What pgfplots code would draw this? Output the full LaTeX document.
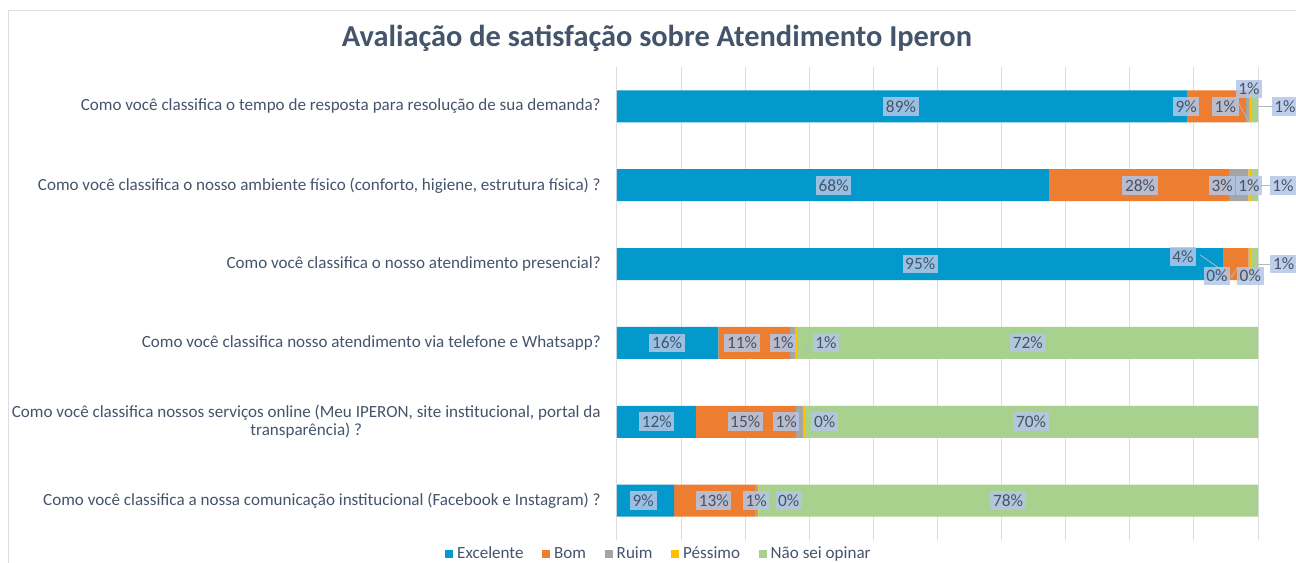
\documentclass[border=0pt]{standalone}
\usepackage{fontspec}
\setmainfont{Carlito}
\usepackage{pgfplots}
\pgfplotsset{compat=1.18}
\usepackage{pgfplotstable}
\definecolor{cExc}{HTML}{0399CC}
\definecolor{cBom}{HTML}{ED7D31}
\definecolor{cRuim}{HTML}{A5A5A5}
\definecolor{cPess}{HTML}{FFC000}
\definecolor{cNao}{HTML}{A9D18E}
\definecolor{txt}{HTML}{44546A}
\definecolor{gridc}{HTML}{DCDCE2}
\definecolor{lblbg}{HTML}{B4C7E7}

\pgfplotstableread{
y exc bom ruim pess nao
1 88.9 9.2 0.5 0.5 0.9
2 67.5 28.0 3.0 0.6 0.9
3 94.5 4.0 0.1 0.3 1.1
4 15.8 11.2 0.8 0.3 71.9
5 12.3 15.6 1.1 0.3 70.7
6 8.9 12.6 0.5 0.1 77.9
}\datatable

\pgfplotstableread{
x y lab
44.3 1 89
88.8 1 9
94.9 1 1
98.6 0.78 1
104.2 1 1
33.8 2 68
81.6 2 28
94.4 2 3
98.6 2 1
103.9 2 1
47.3 3 95
88.3 2.90 4
93.6 3.15 0
98.8 3.15 0
104.0 3 1
7.8 4 16
19.5 4 11
25.9 4 1
32.6 4 1
64.1 4 72
6.2 5 12
20.0 5 15
26.4 5 1
32.4 5 0
64.6 5 70
4.1 6 9
15.1 6 13
21.7 6 1
26.8 6 0
61.0 6 78
}\labeltable

\begin{document}
\begin{tikzpicture}
\path[use as bounding box] (0pt,0pt) rectangle (972pt,422.25pt);
\draw[gridc, line width=0.75pt] (6pt,0pt) -- (6pt,414pt) -- (972pt,414pt);
\node[font=\fontsize{22.8}{27}\selectfont\bfseries, text=txt] at (492.75pt,393.75pt) {Avaliação de satisfação sobre Atendimento Iperon};

\begin{axis}[
  at={(462.75pt,17.25pt)}, anchor=south west,
  scale only axis, width=480.75pt, height=354.75pt,
  xbar stacked, bar width=24pt,
  xmin=0, xmax=100, ymin=0.5, ymax=6.5, y dir=reverse,
  xtick={0,10,...,100}, xticklabels={},
  xmajorgrids, major grid style={gridc, line width=0.75pt},
  axis line style={draw=none},
  major tick length=0pt,
  ytick={1,...,6},
  yticklabels={
    {Como você classifica o tempo de resposta para resolução de sua demanda?},
    {Como você classifica o nosso ambiente físico (conforto, higiene, estrutura física) ?},
    {Como você classifica o nosso atendimento presencial?},
    {Como você classifica nosso atendimento via telefone e Whatsapp?},
    {Como você classifica nossos serviços online (Meu IPERON, site institucional, portal da\\transparência) ?},
    {Como você classifica a nossa comunicação institucional (Facebook e Instagram) ?}},
  yticklabel style={font=\fontsize{12.8}{14}\selectfont, text=txt, align=center, anchor=east, inner sep=0pt, xshift=-12pt},
  legend columns=5,
  legend style={at={(0.067,-0.03)}, anchor=center, draw=none, fill=none,
    font=\fontsize{12.8}{14}\selectfont, text=txt,
    nodes={text height=1.6ex, text depth=0.3ex, inner xsep=3pt},
    /tikz/every even column/.append style={column sep=11pt}},
  legend image code/.code={\fill[#1] (0pt,-3pt) rectangle (6pt,3pt);},
  clip=false,
]
\addplot[fill=cExc, draw=none] table[x=exc, y=y] {\datatable};
\addlegendentry{Excelente}
\addplot[fill=cBom, draw=none] table[x=bom, y=y] {\datatable};
\addlegendentry{Bom}
\addplot[fill=cRuim, draw=none] table[x=ruim, y=y] {\datatable};
\addlegendentry{Ruim}
\addplot[fill=cPess, draw=none] table[x=pess, y=y] {\datatable};
\addlegendentry{Péssimo}
\addplot[fill=cNao, draw=none] table[x=nao, y=y] {\datatable};
\addlegendentry{Não sei opinar}
\end{axis}

\begin{axis}[
  at={(462.75pt,17.25pt)}, anchor=south west,
  scale only axis, width=480.75pt, height=354.75pt,
  xmin=0, xmax=100, ymin=0.5, ymax=6.5, y dir=reverse,
  hide axis, clip=false,
]
% leader lines
\addplot[cRuim!80, line width=0.6pt] coordinates {(100,1) (102.6,1)};
\addplot[cRuim!80, line width=0.6pt] coordinates {(96.7,0.92) (98.6,1.2)};
\addplot[cRuim!80, line width=0.6pt] coordinates {(100,2) (102.2,2)};
\addplot[cRuim!80, line width=0.6pt] coordinates {(91.0,2.885) (95.9,3.164) (96.7,3.05)};
\addplot[cRuim!80, line width=0.6pt] coordinates {(100,3) (101.9,3)};
\addplot[cRuim!80, line width=0.6pt] coordinates {(29.2,4.16) (30.1,4.0)};
\addplot[cRuim!80, line width=0.6pt] coordinates {(29.3,5) (30.4,5)};
% data labels
\addplot[draw=none, mark=none,
  nodes near coords={\pgfplotspointmeta\%},
  point meta=explicit symbolic,
  every node near coord/.style={anchor=center, font=\fontsize{13}{14}\selectfont,
    text=txt, fill=lblbg, fill opacity=0.85, text opacity=1, inner xsep=2pt, inner ysep=2.5pt},
] table[x=x, y=y, meta=lab] {\labeltable};
\end{axis}
\end{tikzpicture}
\end{document}
